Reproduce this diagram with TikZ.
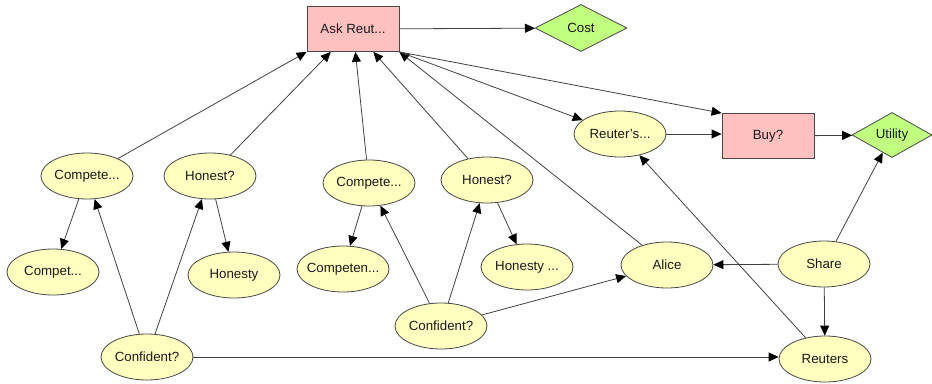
\documentclass[tikz,border=0pt]{standalone}
\usepackage{fontspec}
\setmainfont{Liberation Sans}
\usetikzlibrary{shapes.geometric,arrows.meta}

\definecolor{chancefill}{RGB}{255,255,192}
\definecolor{decisionfill}{RGB}{255,192,192}
\definecolor{utilityfill}{RGB}{192,255,128}
\definecolor{outline}{RGB}{70,70,70}

\begin{document}
\begin{tikzpicture}[x=1pt,y=-1pt,
  label font/.style={font=\fontsize{13.3}{16}\selectfont, text=black!90},
  chance/.style={ellipse, draw=outline, line width=0.8pt, fill=chancefill,
    minimum width=92pt, minimum height=46pt, inner ysep=0pt, inner xsep=-8pt,
    label font},
  decision/.style={rectangle, draw=outline, line width=0.8pt, fill=decisionfill,
    minimum width=92pt, minimum height=45pt, inner sep=0pt, label font},
  utility/.style={diamond, draw=outline, line width=0.8pt, fill=utilityfill,
    minimum width=92pt, minimum height=47pt, inner sep=0pt, label font},
  link/.style={draw=black!75, line width=0.8pt,
    -{Triangle[length=10pt,width=9pt,color=black]}}]

\useasboundingbox (0,0) rectangle (932,383);

% decision and utility nodes
\node[decision] (ask) at (353,29) {Ask Reut...};
\node[utility]  (cost) at (581,28) {Cost};
\node[decision] (buy) at (768,136) {Buy?};
\node[utility, minimum width=80pt, minimum height=45pt] (util) at (892,135) {Utility};

% chance nodes
\node[chance] (rview)   at (620,134) {Reuter's...};
\node[chance] (alice)   at (667,265) {Alice};
\node[chance] (share)   at (824,264) {Share};
\node[chance] (reuters) at (825,359) {Reuters};

\node[chance] (compA)  at (87,176)  {Compete...};
\node[chance] (honA)   at (210,176) {Honest?};
\node[chance] (cmpA)   at (53,272)  {Compet...};
\node[chance] (honyA)  at (234,275) {Honesty};
\node[chance] (confA)  at (147,357) {Confident?};

\node[chance] (compB)  at (369,183) {Compete...};
\node[chance] (honB)   at (487,180) {Honest?};
\node[chance] (cmpB)   at (343,269) {Competen...};
\node[chance] (honyB)  at (527,267) {Honesty ...};
\node[chance] (confB)  at (441,326) {Confident?};

% links into the first decision
\draw[link] (compA) -- (ask.south west);
\draw[link] (honA) -- (ask);
\draw[link] (compB) -- (ask);
\draw[link] (honB) -- (ask);
\draw[link] (alice) -- (ask.south east);

% links out of the first decision
\draw[link] (ask) -- (cost);
\draw[link] (ask.south east) -- (rview);
\draw[link] (ask.south east) -- (buy.north west);

% second decision and utility
\draw[link] (rview) -- (buy.west |- rview);
\draw[link] (buy) -- (util);
\draw[link] (share) -- (util);
\draw[link] (share) -- (alice);
\draw[link] (share) -- (reuters);
\draw[link] (reuters) -- (rview);

% left group
\draw[link] (confA) -- (compA);
\draw[link] (confA) -- (honA);
\draw[link] (compA) -- (cmpA);
\draw[link] (honA) -- (honyA);
\draw[link] (confA) -- (reuters.west |- confA);

% middle group
\draw[link] (confB) -- (compB);
\draw[link] (confB) -- (honB);
\draw[link] (compB) -- (cmpB);
\draw[link] (honB) -- (honyB);
\draw[link] (confB) -- (alice);

\end{tikzpicture}
\end{document}
